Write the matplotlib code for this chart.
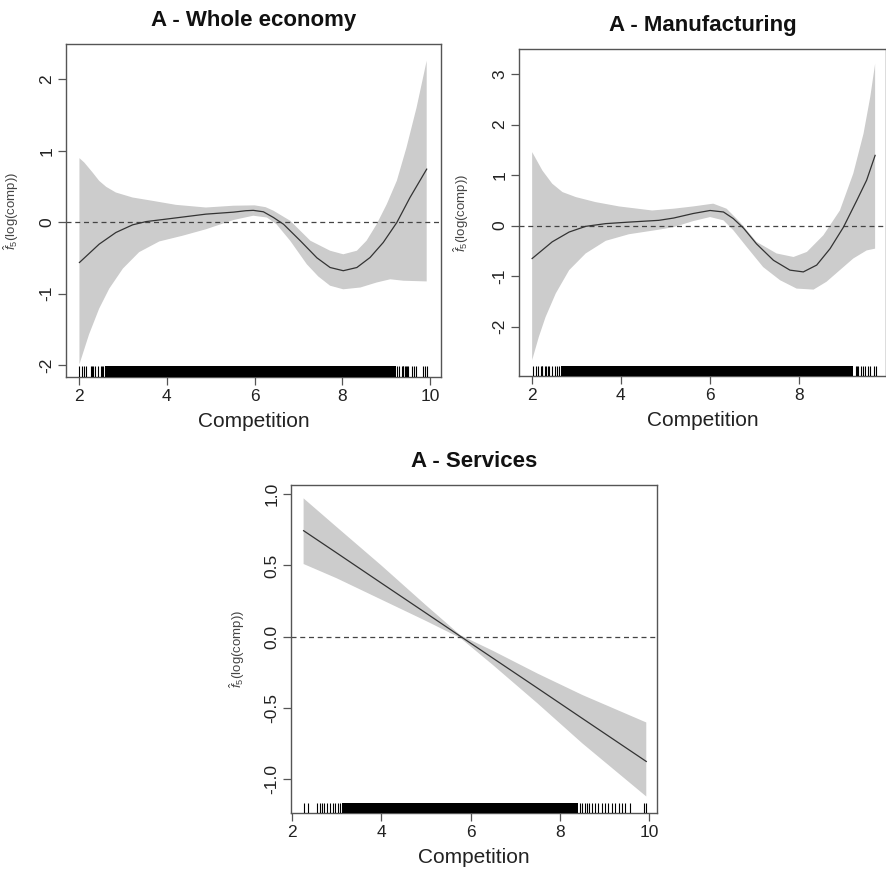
#coding:utf-8
import numpy as np
import matplotlib
matplotlib.use('Agg')
from matplotlib import pyplot as plt

plt.rcParams['font.family'] = ['Liberation Sans', 'DejaVu Sans']
plt.rcParams['mathtext.fontset'] = 'custom'
plt.rcParams['mathtext.rm'] = 'Liberation Sans'
plt.rcParams['mathtext.it'] = 'Liberation Sans:italic'

# --- A - Whole economy ---
whole_fit_x = [2.01, 2.46, 2.84, 3.22, 3.53, 3.98, 4.89, 5.52, 5.8, 5.97, 6.2, 6.43, 6.66,
               7.04, 7.42, 7.72, 8.02, 8.33, 8.63, 8.93, 9.24, 9.54, 9.92]
whole_fit_y = [-0.565, -0.308, -0.145, -0.038, 0.008, 0.042, 0.112, 0.14, 0.16, 0.165, 0.145, 0.065, -0.03,
               -0.26, -0.5, -0.635, -0.68, -0.635, -0.495, -0.285, -0.005, 0.345, 0.742]
whole_up_x = [2.01, 2.12, 2.31, 2.46, 2.62, 2.84, 3.22, 3.68, 4.21, 4.89, 5.52, 6.0, 6.25,
              6.43, 6.81, 7.27, 7.72, 8.02, 8.33, 8.55, 8.78, 9.01, 9.24, 9.46, 9.69, 9.92]
whole_up_y = [0.896, 0.835, 0.695, 0.578, 0.494, 0.415, 0.345, 0.298, 0.242, 0.205, 0.23, 0.235, 0.21,
              0.16, 0.02, -0.26, -0.40, -0.45, -0.40, -0.26, -0.03, 0.25, 0.58, 1.045, 1.605, 2.26]
whole_lo_x = [2.01, 2.23, 2.46, 2.69, 3.0, 3.37, 3.83, 4.36, 4.89, 5.52, 5.97, 6.28, 6.5,
              6.81, 7.19, 7.45, 7.72, 8.02, 8.41, 8.78, 9.09, 9.39, 9.92]
whole_lo_y = [-1.99, -1.57, -1.21, -0.93, -0.65, -0.42, -0.27, -0.19, -0.10, 0.03, 0.09, 0.065, -0.03,
              -0.26, -0.59, -0.76, -0.89, -0.94, -0.915, -0.845, -0.80, -0.82, -0.83]
whole_rug = [2.01, 2.06, 2.11, 2.16, 2.27, 2.30, 2.33, 2.36, 2.44, 2.49, 2.52, 2.54,
             9.25, 9.30, 9.35, 9.37, 9.39, 9.43, 9.46, 9.48, 9.50, 9.58, 9.62, 9.68,
             9.84, 9.88, 9.92]
whole_rug_dense = (2.59, 9.22)

# --- A - Manufacturing ---
manu_fit_x = [2.01, 2.46, 2.84, 3.21, 3.66, 4.18, 4.85, 5.18, 5.62, 6.0, 6.30, 6.52,
              6.75, 7.04, 7.42, 7.79, 8.09, 8.39, 8.69, 8.99, 9.29, 9.51, 9.70]
manu_fit_y = [-0.65, -0.32, -0.126, -0.014, 0.04, 0.07, 0.105, 0.15, 0.24, 0.30, 0.27, 0.14,
              -0.05, -0.36, -0.685, -0.88, -0.915, -0.78, -0.455, -0.03, 0.5, 0.9, 1.39]
manu_up_x = [2.01, 2.24, 2.46, 2.69, 2.99, 3.43, 3.96, 4.70, 5.18, 5.62, 6.07, 6.37, 6.67,
             7.04, 7.49, 7.87, 8.17, 8.54, 8.91, 9.21, 9.44, 9.59, 9.70]
manu_up_y = [1.455, 1.09, 0.83, 0.664, 0.565, 0.466, 0.38, 0.30, 0.335, 0.38, 0.435, 0.335, 0.07,
             -0.32, -0.55, -0.62, -0.52, -0.19, 0.30, 1.03, 1.82, 2.54, 3.2]
manu_lo_x = [2.01, 2.16, 2.31, 2.54, 2.84, 3.21, 3.66, 4.18, 4.85, 5.18, 5.62, 6.0, 6.30, 6.52,
             6.82, 7.19, 7.57, 7.94, 8.32, 8.61, 8.91, 9.21, 9.51, 9.70]
manu_lo_y = [-2.66, -2.2, -1.81, -1.34, -0.88, -0.55, -0.3, -0.17, -0.08, -0.03, 0.09, 0.17, 0.105, -0.09,
             -0.42, -0.82, -1.08, -1.245, -1.265, -1.11, -0.88, -0.65, -0.49, -0.455]
manu_rug = [2.02, 2.10, 2.15, 2.20, 2.22, 2.24, 2.29, 2.31, 2.37, 2.39, 2.46, 2.52, 2.56, 2.62,
            9.27, 9.30, 9.32, 9.38, 9.42, 9.47, 9.53, 9.59, 9.68, 9.71]
manu_rug_dense = (2.65, 9.21)

# --- A - Services ---
serv_x = [2.26, 3.0, 4.0, 5.0, 5.77, 6.5, 7.5, 8.5, 9.93]
serv_fit = [0.744, 0.588, 0.376, 0.165, 0.002, -0.152, -0.363, -0.575, -0.877]
serv_up = [0.971, 0.77, 0.50, 0.22, 0.01, -0.10, -0.26, -0.41, -0.603]
serv_lo = [0.510, 0.41, 0.26, 0.11, -0.01, -0.20, -0.47, -0.75, -1.123]
serv_rug = [2.28, 2.35, 2.56, 2.62, 2.67, 2.72, 2.78, 2.84, 2.92, 2.97, 3.02, 3.08,
            8.45, 8.49, 8.56, 8.60, 8.64, 8.71, 8.79, 8.86, 8.94, 9.01, 9.08, 9.16, 9.23,
            9.31, 9.38, 9.46, 9.57, 9.87, 9.93]
serv_rug_dense = (3.12, 8.41)

BAND = '#cccccc'
LINE = '#333333'
FRAME = '#555555'
W, H = 887.0, 873.0


def add_axes(fig, left, top, right, bottom):
    return fig.add_axes([left / W, (H - bottom) / H, (right - left) / W, (bottom - top) / H])


def draw_panel(ax, title, fx, fy, ux, uy, lx, ly, rug, dense, xlim, ylim,
               xticks, yticks, yfmt, px_w, px_h, ylab_off):
    ax.fill(np.concatenate([ux, lx[::-1]]), np.concatenate([uy, ly[::-1]]),
            color=BAND, lw=0, zorder=1)
    ax.plot(fx, fy, color=LINE, lw=0.9, zorder=3)
    ax.axhline(0, color='#444444', lw=0.9, ls=(0, (4, 3)), zorder=2)

    # rug
    tr = ax.get_xaxis_transform()
    ax.vlines(rug, 0, 0.032, transform=tr, color='black', lw=0.8, zorder=4)
    ax.axvspan(dense[0], dense[1], ymin=0, ymax=0.032, color='black', lw=0, zorder=4)

    ax.set_xlim(*xlim)
    ax.set_ylim(*ylim)
    ax.set_xticks(xticks)
    ax.set_yticks(yticks)
    ax.set_yticklabels([yfmt % v for v in yticks], rotation=90, va='center')
    ax.tick_params(direction='out', length=5.5, width=0.9, color=FRAME,
                   labelsize=12.5, labelcolor='#222222', pad=3)
    for s in ax.spines.values():
        s.set_color(FRAME)
        s.set_linewidth(1.0)

    ax.set_title(title, fontsize=16, fontweight='bold', pad=13, color='#111111')
    ax.set_xlabel('Competition', fontsize=15, color='#222222')
    ax.xaxis.set_label_coords(0.5, -35.0 / px_h)
    ax.set_ylabel(r'$\hat{f}_5$(log(comp))', fontsize=9.5, color='#444444')
    ax.yaxis.set_label_coords(-ylab_off / px_w, 0.5)


def run_main():
    fig = plt.figure(figsize=(8.87, 8.73), dpi=100)

    ax_1 = add_axes(fig, 66, 44, 441, 377)
    draw_panel(ax_1, 'A - Whole economy',
               whole_fit_x, whole_fit_y, np.array(whole_up_x), np.array(whole_up_y),
               np.array(whole_lo_x), np.array(whole_lo_y), whole_rug, whole_rug_dense,
               (1.704, 10.246), (-2.168, 2.494), [2, 4, 6, 8, 10], [-2, -1, 0, 1, 2], '%d',
               375, 333, 45)

    ax_2 = add_axes(fig, 519, 49, 886, 376)
    draw_panel(ax_2, 'A - Manufacturing',
               manu_fit_x, manu_fit_y, np.array(manu_up_x), np.array(manu_up_y),
               np.array(manu_lo_x), np.array(manu_lo_y), manu_rug, manu_rug_dense,
               (1.715, 9.944), (-2.974, 3.494), [2, 4, 6, 8], [-2, -1, 0, 1, 2, 3], '%d',
               367, 327, 48)

    ax_3 = add_axes(fig, 291, 485, 657, 813)
    draw_panel(ax_3, 'A - Services',
               serv_x, serv_fit, np.array(serv_x), np.array(serv_up),
               np.array(serv_x), np.array(serv_lo), serv_rug, serv_rug_dense,
               (1.978, 10.17), (-1.239, 1.065), [2, 4, 6, 8, 10], [-1.0, -0.5, 0.0, 0.5, 1.0], '%.1f',
               366, 328, 44)

    fig.savefig('out.png', dpi=100)
    return ''


if __name__ == '__main__':
    run_main()
